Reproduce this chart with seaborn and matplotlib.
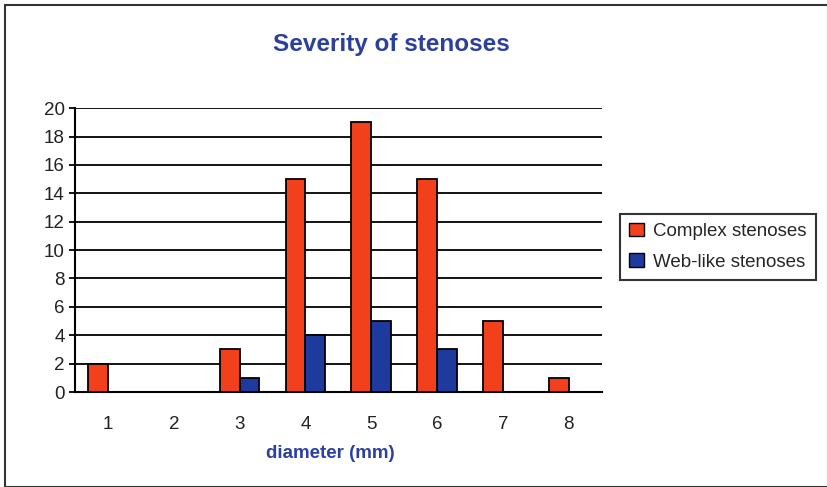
import matplotlib
matplotlib.use("Agg")
import matplotlib.pyplot as plt
import seaborn as sns
import pandas as pd
from matplotlib.patches import Rectangle, Patch

diameters = ["1", "2", "3", "4", "5", "6", "7", "8"]
complex_counts = [2, 0, 3, 15, 19, 15, 5, 1]
weblike_counts = [0, 0, 1, 4, 5, 3, 0, 0]
series_names = ["Complex stenoses", "Web-like stenoses"]
colors = ["#F2401C", "#1F3A9E"]

df = pd.DataFrame({
    "diameter": diameters * 2,
    "count": complex_counts + weblike_counts,
    "type": [series_names[0]] * len(diameters) + [series_names[1]] * len(diameters),
})

sns.set_theme(style="white")
plt.rcParams["font.family"] = ["Liberation Sans", "DejaVu Sans"]

fig = plt.figure(figsize=(8.28, 4.87), dpi=100)
ax = fig.add_axes([0.0906, 0.195, 0.636, 0.583])

sns.barplot(data=df, x="diameter", y="count", hue="type", order=diameters,
            hue_order=series_names, palette=colors, saturation=1, width=0.6,
            edgecolor="black", linewidth=1.3, ax=ax, legend=False, zorder=3)

ax.set_xlim(-0.5, 7.5)
ax.set_ylim(0, 20)
ax.set_yticks(range(0, 21, 2))
ax.yaxis.grid(True, color="black", linewidth=1.3, zorder=0)
ax.set_axisbelow(True)
for s in ["top", "right"]:
    ax.spines[s].set_visible(False)
for s in ["left", "bottom"]:
    ax.spines[s].set_color("black")
    ax.spines[s].set_linewidth(1.5)

ax.tick_params(axis="x", which="major", length=0, pad=17, labelsize=13.5, colors="#222222")
ax.set_xticks([i - 0.5 for i in range(9)], minor=True)
ax.tick_params(axis="x", which="minor", length=5, width=1.5, color="black", direction="out")
ax.tick_params(axis="y", length=4, width=1.3, color="black", labelsize=13.5, colors="#222222", left=True)

ax.set_xlabel("diameter (mm)", color="#2B40A0", fontsize=13.5, fontweight="bold", labelpad=10)
ax.xaxis.set_label_coords(0.484, -0.185)
ax.set_ylabel("")

fig.text(0.473, 0.908, "Severity of stenoses", ha="center", va="center",
         color="#2B3F9C", fontsize=17.5, fontweight="bold")

handles = [Patch(facecolor=c, edgecolor="black", linewidth=1.0) for c in colors]
leg = fig.legend(handles, series_names, loc="center left",
                 bbox_to_anchor=(0.737, 0.493), frameon=True, fancybox=False,
                 edgecolor="black", fontsize=13.5, handlelength=0.8, handleheight=0.7,
                 handletextpad=0.5, borderpad=0.5, labelspacing=0.7)
leg.get_frame().set_linewidth(1.5)

fig.patches.append(Rectangle((0.006, 0.0), 0.994, 0.99, transform=fig.transFigure,
                             fill=False, edgecolor="#333333", linewidth=1.5))

fig.savefig("out.png", dpi=100)
